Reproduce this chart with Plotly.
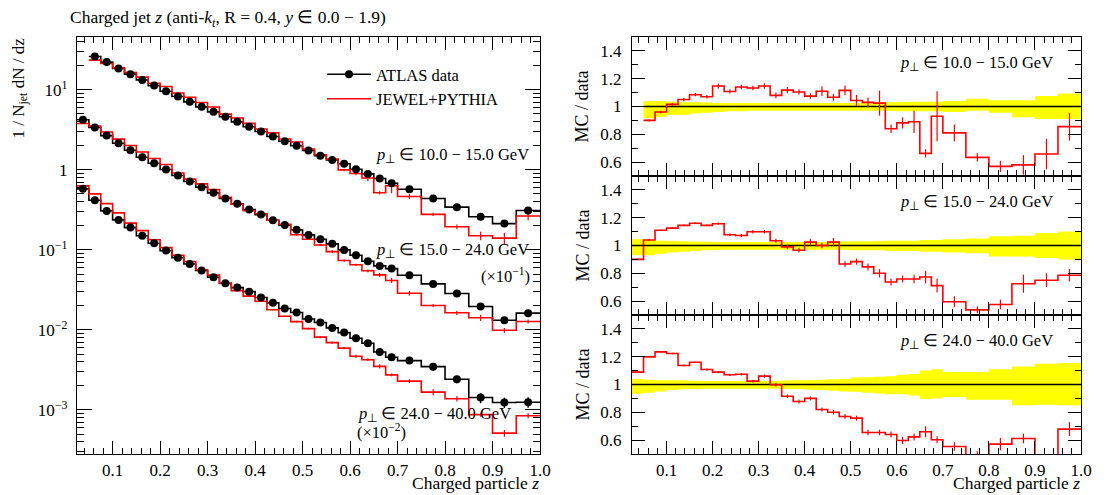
import plotly.graph_objects as go

W, H = 1110, 495

# ---------------- data ----------------
z_edges = [0.025, 0.05, 0.075, 0.1, 0.125, 0.15, 0.175, 0.2, 0.225, 0.25, 0.275,
           0.3, 0.325, 0.35, 0.375, 0.4, 0.425, 0.45, 0.475, 0.5, 0.525, 0.55,
           0.575, 0.6, 0.625, 0.65, 0.675, 0.7, 0.75, 0.8, 0.85, 0.9, 0.95, 1.0]

# pT 10-15 GeV (starts at z = 0.05), scale x1
data_pt10_15 = [26.1, 22.2, 18.5, 15.7, 13.3, 11.3, 9.6, 8.25, 7.08, 6.13, 5.31, 4.60,
                3.98, 3.45, 3.01, 2.61, 2.28, 2.0, 1.75, 1.50, 1.33, 1.19, 1.02, 0.89,
                0.78, 0.68, 0.573, 0.438, 0.342, 0.259, 0.213, 0.310]
ratio_pt10_15 = [0.90, 0.96, 1.015, 1.05, 1.085, 1.07, 1.147, 1.108, 1.14, 1.133,
                 1.147, 1.08, 1.118, 1.104, 1.075, 1.11, 1.067, 1.116, 1.043, 1.03,
                 1.024, 0.84, 0.882, 0.89, 0.663, 0.93, 0.81, 0.634, 0.569, 0.58, 0.658, 0.855]
rerr_pt10_15 = [0.008, 0.01, 0.01, 0.012, 0.012, 0.012, 0.018, 0.015, 0.016, 0.016,
                0.02, 0.02, 0.022, 0.02, 0.02, 0.035, 0.025, 0.035, 0.04, 0.035,
                0.09, 0.03, 0.04, 0.08, 0.03, 0.18, 0.06, 0.03, 0.04, 0.07, 0.11, 0.1]
band_up_pt10_15 = [0.04, 0.04, 0.035, 0.03, 0.03, 0.028, 0.025, 0.025, 0.025, 0.025,
                   0.025, 0.025, 0.025, 0.025, 0.025, 0.025, 0.025, 0.025, 0.025, 0.028,
                   0.03, 0.03, 0.032, 0.035, 0.035, 0.035, 0.04, 0.055, 0.045, 0.045, 0.075, 0.094]
band_dn_pt10_15 = [0.085, 0.075, 0.06, 0.06, 0.05, 0.045, 0.04, 0.035, 0.035, 0.03,
                   0.03, 0.03, 0.03, 0.03, 0.03, 0.03, 0.03, 0.03, 0.03, 0.03,
                   0.03, 0.032, 0.035, 0.035, 0.035, 0.035, 0.04, 0.03, 0.045, 0.077, 0.09, 0.09]

# pT 15-24 GeV, scaled x10^-1
data_pt15_24 = [4.22, 3.38, 2.68, 2.15, 1.76, 1.44, 1.21, 1.01, 0.849, 0.714,
                0.608, 0.516, 0.438, 0.376, 0.319, 0.276, 0.235, 0.204, 0.178, 0.154,
                0.136, 0.119, 0.100, 0.0859, 0.0722, 0.0631, 0.0584,
                0.0483, 0.0376, 0.0285, 0.0196, 0.0132, 0.0162]
ratio_pt15_24 = [0.90, 1.04, 1.11, 1.125, 1.145, 1.16, 1.145, 1.157, 1.077, 1.072,
                 1.099, 1.099, 1.034, 0.99, 0.966, 1.024, 1.0, 1.024, 0.867, 0.884,
                 0.846, 0.80, 0.737, 0.759, 0.759, 0.773, 0.711,
                 0.595, 0.537, 0.576, 0.725, 0.75, 0.786]
rerr_pt15_24 = [0.005, 0.005, 0.005, 0.005, 0.006, 0.006, 0.007, 0.008, 0.009, 0.01,
                0.012, 0.013, 0.014, 0.015, 0.017, 0.025, 0.02, 0.03, 0.02, 0.022,
                0.025, 0.03, 0.025, 0.025, 0.03, 0.045, 0.05,
                0.04, 0.025, 0.035, 0.065, 0.05, 0.045]
band_up_pt15_24 = [0.045, 0.04, 0.035, 0.032, 0.03, 0.028, 0.027, 0.026, 0.025, 0.025,
                   0.025, 0.025, 0.025, 0.025, 0.025, 0.025, 0.025, 0.028, 0.028, 0.03,
                   0.03, 0.032, 0.035, 0.035, 0.035, 0.04, 0.04,
                   0.045, 0.05, 0.067, 0.07, 0.09, 0.1]
band_dn_pt15_24 = [0.07, 0.07, 0.06, 0.05, 0.045, 0.04, 0.035, 0.032, 0.03, 0.03,
                   0.03, 0.03, 0.03, 0.03, 0.03, 0.03, 0.03, 0.03, 0.03, 0.035,
                   0.035, 0.035, 0.04, 0.04, 0.04, 0.045, 0.045,
                   0.05, 0.055, 0.08, 0.08, 0.09, 0.1]

# pT 24-40 GeV, scaled x10^-2
data_pt24_40 = [0.579, 0.418, 0.307, 0.237, 0.190, 0.150, 0.121, 0.098, 0.080, 0.0668,
                0.0552, 0.0456, 0.0383, 0.0338, 0.0301, 0.0254, 0.0218, 0.0185, 0.0165, 0.0137,
                0.0124, 0.0106, 0.00926, 0.00787, 0.00682, 0.00531, 0.00456,
                0.00414, 0.00348, 0.00242, 0.00143, 0.00124, 0.00125]
ratio_pt24_40 = [1.089, 1.199, 1.235, 1.223, 1.137, 1.16, 1.108, 1.089, 1.07, 1.074,
                 1.024, 1.06, 0.998, 0.916, 0.878, 0.90, 0.82, 0.80, 0.77, 0.758,
                 0.655, 0.655, 0.64, 0.597, 0.623, 0.66, 0.602,
                 0.554, 0.48, 0.571, 0.612, 0.414, 0.679]
rerr_pt24_40 = [0.005, 0.005, 0.005, 0.006, 0.006, 0.006, 0.007, 0.008, 0.008, 0.009,
                0.01, 0.012, 0.012, 0.012, 0.014, 0.015, 0.015, 0.016, 0.017, 0.018,
                0.02, 0.02, 0.022, 0.025, 0.025, 0.04, 0.025,
                0.03, 0.04, 0.045, 0.035, 0.04, 0.05]
band_up_pt24_40 = [0.04, 0.035, 0.03, 0.03, 0.028, 0.027, 0.026, 0.025, 0.025, 0.025,
                   0.025, 0.025, 0.026, 0.028, 0.03, 0.032, 0.035, 0.038, 0.04, 0.05,
                   0.052, 0.055, 0.06, 0.07, 0.075, 0.1, 0.11,
                   0.09, 0.09, 0.11, 0.13, 0.15, 0.155]
band_dn_pt24_40 = [0.067, 0.06, 0.05, 0.04, 0.035, 0.032, 0.03, 0.03, 0.03, 0.03,
                   0.03, 0.03, 0.03, 0.032, 0.035, 0.038, 0.04, 0.045, 0.05, 0.053,
                   0.06, 0.065, 0.07, 0.07, 0.08, 0.105, 0.1,
                   0.09, 0.11, 0.11, 0.15, 0.146, 0.15]

series = [
    dict(edges=z_edges[1:], data=data_pt10_15, ratio=ratio_pt10_15, rerr=rerr_pt10_15,
         bup=band_up_pt10_15, bdn=band_dn_pt10_15),
    dict(edges=z_edges, data=data_pt15_24, ratio=ratio_pt15_24, rerr=rerr_pt15_24,
         bup=band_up_pt15_24, bdn=band_dn_pt15_24),
    dict(edges=z_edges, data=data_pt24_40, ratio=ratio_pt24_40, rerr=rerr_pt24_40,
         bup=band_up_pt24_40, bdn=band_dn_pt24_40),
]
panel_labels = ["10.0 − 15.0", "15.0 − 24.0", "24.0 − 40.0"]

FONT = "Liberation Serif"
RED = "#ff0000"
TXT = 16.5
TICK = 17


def px(x):
    return x / W


def py(y):
    return 1 - y / H


fig = go.Figure()
NOMARK = dict(size=6, color="rgba(0,0,0,0)")

# ---------------- main panel ----------------
for s in series:
    e = s["edges"]
    c = [(e[i] + e[i + 1]) / 2 for i in range(len(e) - 1)]
    d = s["data"]
    mc = [di * ri for di, ri in zip(d, s["ratio"])]
    mc_err = [di * ei for di, ei in zip(d, s["rerr"])]
    fig.add_trace(go.Scatter(x=e, y=list(d) + [d[-1]], mode="lines", line_shape="hv",
                             line=dict(color="black", width=1.6), showlegend=False,
                             hoverinfo="skip", xaxis="x", yaxis="y"))
    fig.add_trace(go.Scatter(x=e, y=mc + [mc[-1]], mode="lines", line_shape="hv",
                             line=dict(color=RED, width=1.6), showlegend=False,
                             hoverinfo="skip", xaxis="x", yaxis="y"))
    fig.add_trace(go.Scatter(x=c, y=mc, mode="markers", marker=NOMARK,
                             error_y=dict(type="data", array=mc_err, color=RED,
                                          thickness=1.2, width=0),
                             showlegend=False, xaxis="x", yaxis="y"))
    fig.add_trace(go.Scatter(x=c, y=d, mode="markers",
                             marker=dict(size=8, color="black"),
                             error_y=dict(type="data",
                                          array=[di * u for di, u in zip(d, s["bup"])],
                                          arrayminus=[di * u for di, u in zip(d, s["bdn"])],
                                          color="black", thickness=1.4, width=0),
                             showlegend=False, xaxis="x", yaxis="y"))

# legend entries
fig.add_trace(go.Scatter(x=[None], y=[None], mode="lines+markers", name="ATLAS data",
                         line=dict(color="black", width=1.6),
                         marker=dict(size=8, color="black"), xaxis="x", yaxis="y"))
fig.add_trace(go.Scatter(x=[None], y=[None], mode="lines", name="JEWEL+PYTHIA",
                         line=dict(color=RED, width=1.6), xaxis="x", yaxis="y"))

# ---------------- ratio panels ----------------
for k, s in enumerate(series):
    xa = "x%d" % (k + 2)
    ya = "y%d" % (k + 2)
    e = s["edges"]
    c = [(e[i] + e[i + 1]) / 2 for i in range(len(e) - 1)]
    lo = [1 - v for v in s["bdn"]]
    hi = [1 + v for v in s["bup"]]
    fig.add_trace(go.Scatter(x=e, y=lo + [lo[-1]], mode="lines", line_shape="hv",
                             line=dict(width=0, color="#ffff00"), showlegend=False,
                             hoverinfo="skip", xaxis=xa, yaxis=ya))
    fig.add_trace(go.Scatter(x=e, y=hi + [hi[-1]], mode="lines", line_shape="hv",
                             line=dict(width=0, color="#ffff00"), fill="tonexty",
                             fillcolor="#ffff00", showlegend=False,
                             hoverinfo="skip", xaxis=xa, yaxis=ya))
    fig.add_trace(go.Scatter(x=[e[0], e[-1]], y=[1, 1], mode="lines",
                             line=dict(color="black", width=1.6), showlegend=False,
                             hoverinfo="skip", xaxis=xa, yaxis=ya))
    r = s["ratio"]
    fig.add_trace(go.Scatter(x=e, y=list(r) + [r[-1]], mode="lines", line_shape="hv",
                             line=dict(color=RED, width=1.6), showlegend=False,
                             hoverinfo="skip", xaxis=xa, yaxis=ya))
    fig.add_trace(go.Scatter(x=c, y=r, mode="markers", marker=NOMARK,
                             error_y=dict(type="data", array=s["rerr"], color=RED,
                                          thickness=1.2, width=0),
                             showlegend=False, xaxis=xa, yaxis=ya))

# ---------------- axes ----------------
tickfont = dict(family=FONT, size=TICK, color="black")


def xstyle(domain, anchor, labels=True):
    return dict(domain=domain, anchor=anchor, range=[0.025, 1.0], tick0=0, dtick=0.1,
                tickformat=".1f", ticks="inside", ticklen=13, tickwidth=1.2,
                showline=True, linecolor="black", linewidth=1.3, mirror="allticks",
                showgrid=False, zeroline=False, showticklabels=labels, tickfont=tickfont,
                automargin=False,
                minor=dict(dtick=0.02, tick0=0, ticks="inside", ticklen=6, tickwidth=1.1,
                           tickcolor="black", showgrid=False),
                tickcolor="black", ticklabelstandoff=0)


main_x = [px(77), px(540)]
right_x = [px(632), px(1081)]
panels_y = [(37, 176), (176, 315), (315, 454)]

layout = dict(
    width=W, height=H, margin=dict(l=0, r=0, t=0, b=0, autoexpand=False),
    paper_bgcolor="white", plot_bgcolor="white",
    font=dict(family=FONT, size=TXT, color="black"),
    xaxis=xstyle(main_x, "y"),
    yaxis=dict(domain=[py(454), py(37)], anchor="x", type="log", range=[-3.55, 1.66],
               tickvals=[1e-3, 1e-2, 1e-1, 1, 10],
               ticktext=["10<sup>−3</sup>", "10<sup>−2</sup>", "10<sup>−1</sup>", "1",
                         "10<sup>1</sup>"],
               ticks="inside", ticklen=15, tickwidth=1.2, tickcolor="black",
               showline=True, linecolor="black", linewidth=1.3, mirror="allticks",
               showgrid=False, zeroline=False, tickfont=tickfont, ticklabelstandoff=5,
               automargin=False,
               minor=dict(tickmode="array",
                          tickvals=[m * 10 ** p for p in range(-4, 2) for m in range(2, 10)],
                          ticks="inside", ticklen=7, tickwidth=1.1, tickcolor="black",
                          showgrid=False)),
    showlegend=True,
    legend=dict(x=px(322), y=py(57), xanchor="left", yanchor="top",
                traceorder="normal",
                font=dict(family=FONT, size=TXT, color="black"),
                bgcolor="rgba(0,0,0,0)", tracegroupgap=0, itemwidth=44),
)

for k, (yt, yb) in enumerate(panels_y):
    n = k + 2
    layout["xaxis%d" % n] = xstyle(right_x, "y%d" % n, labels=(k == 2))
    layout["yaxis%d" % n] = dict(
        domain=[py(yb), py(yt)], anchor="x%d" % n, range=[0.5, 1.5],
        tickvals=[0.6, 0.8, 1.0, 1.2, 1.4], ticktext=["0.6", "0.8", "1", "1.2", "1.4"],
        ticks="inside", ticklen=13, tickwidth=1.2, tickcolor="black",
        showline=True, linecolor="black", linewidth=1.3, mirror="allticks",
        showgrid=False, zeroline=False, tickfont=tickfont, ticklabelstandoff=6,
        automargin=False,
        minor=dict(dtick=0.1, tick0=0, ticks="inside", ticklen=6, tickwidth=1.1,
                   tickcolor="black", showgrid=False))

fig.update_layout(**layout)

# ---------------- text ----------------
ann = []


def add_text(text, x, y, xanchor="left", yanchor="middle", size=TXT, angle=0):
    ann.append(dict(text=text, x=px(x), y=py(y), xref="paper", yref="paper",
                    xanchor=xanchor, yanchor=yanchor, showarrow=False, textangle=angle,
                    font=dict(family=FONT, size=size, color="black")))


add_text("Charged jet <i>z</i> (anti-<i>k<sub>t</sub></i>, R = 0.4, <i>y</i> ∈ 0.0 − 1.9)",
         68, 18, size=17.5)
add_text("1 / N<sub>jet</sub> dN / dz", 19, 36, xanchor="center", yanchor="top", angle=-90,
         size=17)
add_text("Charged particle <i>z</i>", 541, 495, xanchor="right", yanchor="bottom", size=17.5)
add_text("Charged particle <i>z</i>", 1082, 495, xanchor="right", yanchor="bottom", size=17.5)

add_text("<i>p</i><sub>⊥</sub> ∈ 10.0 − 15.0 GeV", 531, 155, xanchor="right")
add_text("<i>p</i><sub>⊥</sub> ∈ 15.0 − 24.0 GeV", 531, 250, xanchor="right")
add_text("(×10<sup>−1</sup>)", 532, 275, xanchor="right")
add_text("<i>p</i><sub>⊥</sub> ∈ 24.0 − 40.0 GeV", 356, 414, xanchor="left")
add_text("(×10<sup>−2</sup>)", 355, 431, xanchor="left")

for k, (yt, yb) in enumerate(panels_y):
    add_text("MC / data", 582, (yt + yb) / 2, xanchor="center", angle=-90, size=18)
    add_text("<i>p</i><sub>⊥</sub> ∈ %s GeV" % panel_labels[k], 1055, yt + 26,
             xanchor="right")

fig.update_layout(annotations=ann)
fig.write_html("out.html", config={"displayModeBar": False},
               post_script="document.body.style.margin='0px';")
